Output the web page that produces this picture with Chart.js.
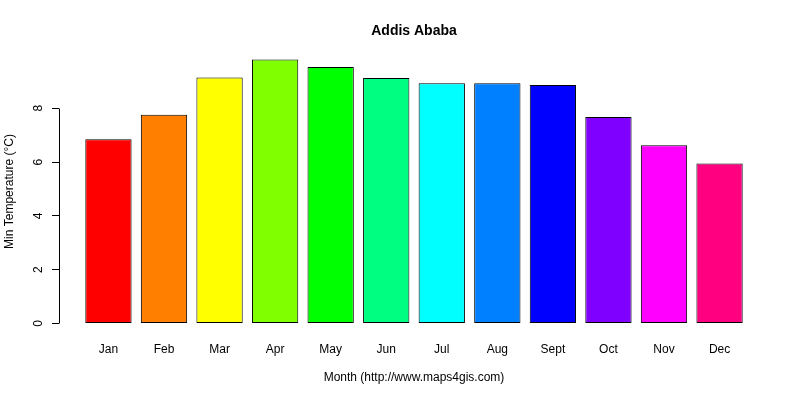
<!DOCTYPE html>
<html>
<head>
<meta charset="utf-8">
<script src="https://cdn.jsdelivr.net/npm/chart.js@4"></script>
<style>
  html, body { margin: 0; padding: 0; background: #ffffff; }
  #c { display: block; }
</style>
</head>
<body>
<canvas id="c" width="800" height="400"></canvas>
<script>
const months = ["Jan", "Feb", "Mar", "Apr", "May", "Jun", "Jul", "Aug", "Sept", "Oct", "Nov", "Dec"];
const minTemp = [6.85, 7.76, 9.14, 9.81, 9.53, 9.12, 8.93, 8.93, 8.86, 7.67, 6.62, 5.95];
const barColors = ["#FF0000", "#FF8000", "#FFFF00", "#80FF00", "#00FF00", "#00FF80",
                   "#00FFFF", "#0080FF", "#0000FF", "#8000FF", "#FF00FF", "#FF0080"];
const yTicks = [0, 2, 4, 6, 8];
const titleText = "Addis Ababa";
const xTitle = "Month (http://www.maps4gis.com)";
const yTitle = "Min Temperature (\u00B0C)";

// R barplot layout: width 1, space 0.2
const SPACE = 0.2, WIDTH = 1;
const barCenters = months.map((m, i) => SPACE + WIDTH / 2 + i * (SPACE + WIDTH));
const xLeft = SPACE, xRight = months.length * (SPACE + WIDTH);
const xExt = (xRight - xLeft) * 0.04;
const yMax = Math.max(...minTemp);
const yExt = yMax * 0.04;

const FONT = "'Liberation Sans', Arial, Helvetica, sans-serif";

const axisLinePlugin = {
  id: 'axisLine',
  afterDraw(chart) {
    const y = chart.scales.y;
    const ctx = chart.ctx;
    const x = Math.round(chart.chartArea.left) + 0.5;
    ctx.save();
    ctx.strokeStyle = '#000';
    ctx.lineWidth = 1;
    ctx.beginPath();
    ctx.moveTo(x, Math.round(y.getPixelForValue(yTicks[0])) + 0.5);
    ctx.lineTo(x, Math.round(y.getPixelForValue(yTicks[yTicks.length - 1])) + 0.5);
    ctx.stroke();
    ctx.restore();
  }
};

new Chart(document.getElementById('c'), {
  type: 'bar',
  data: {
    datasets: [{
      data: minTemp.map((v, i) => ({ x: barCenters[i], y: v })),
      backgroundColor: barColors,
      borderColor: '#000000',
      borderWidth: 1,
      borderSkipped: false,
      barPercentage: WIDTH / (WIDTH + SPACE),
      categoryPercentage: 1
    }]
  },
  options: {
    responsive: false,
    animation: false,
    devicePixelRatio: 1,
    layout: { padding: { top: 0, right: 31, bottom: 0, left: 0 } },
    plugins: {
      legend: { display: false },
      tooltip: { enabled: false },
      title: {
        display: true,
        fullSize: false,
        text: titleText,
        color: '#000',
        font: { family: FONT, size: 14, weight: 'bold', lineHeight: 1.2 },
        padding: { top: 23, bottom: 9.2 }
      }
    },
    scales: {
      x: {
        type: 'linear',
        offset: false,
        min: xLeft - xExt,
        max: xRight + xExt,
        afterBuildTicks(scale) { scale.ticks = barCenters.map(v => ({ value: v })); },
        afterFit(scale) { scale.height = 66; },
        ticks: {
          autoSkip: false,
          maxRotation: 0,
          minRotation: 0,
          color: '#000',
          padding: 8,
          font: { family: FONT, size: 12 },
          callback(value, index) { return months[index]; }
        },
        grid: { display: false, drawTicks: false, offset: false },
        border: { display: false },
        title: {
          display: true,
          text: xTitle,
          color: '#000',
          font: { family: FONT, size: 12, lineHeight: 1.2 },
          padding: { top: 0, bottom: 15 }
        }
      },
      y: {
        type: 'linear',
        min: -yExt,
        max: yMax + yExt,
        afterBuildTicks(scale) { scale.ticks = yTicks.map(v => ({ value: v })); },
        afterFit(scale) { scale.width = 59; },
        ticks: {
          color: '#000',
          minRotation: 90,
          maxRotation: 90,
          crossAlign: 'center',
          padding: 10,
          font: { family: FONT, size: 12 }
        },
        grid: {
          display: true,
          drawOnChartArea: false,
          drawTicks: true,
          tickLength: 7,
          color: '#000',
          lineWidth: 1
        },
        border: { display: false },
        title: {
          display: true,
          text: yTitle,
          color: '#000',
          font: { family: FONT, size: 12, lineHeight: 1.2 },
          padding: { top: 2, bottom: 0 }
        }
      }
    }
  },
  plugins: [axisLinePlugin]
});
</script>
</body>
</html>
